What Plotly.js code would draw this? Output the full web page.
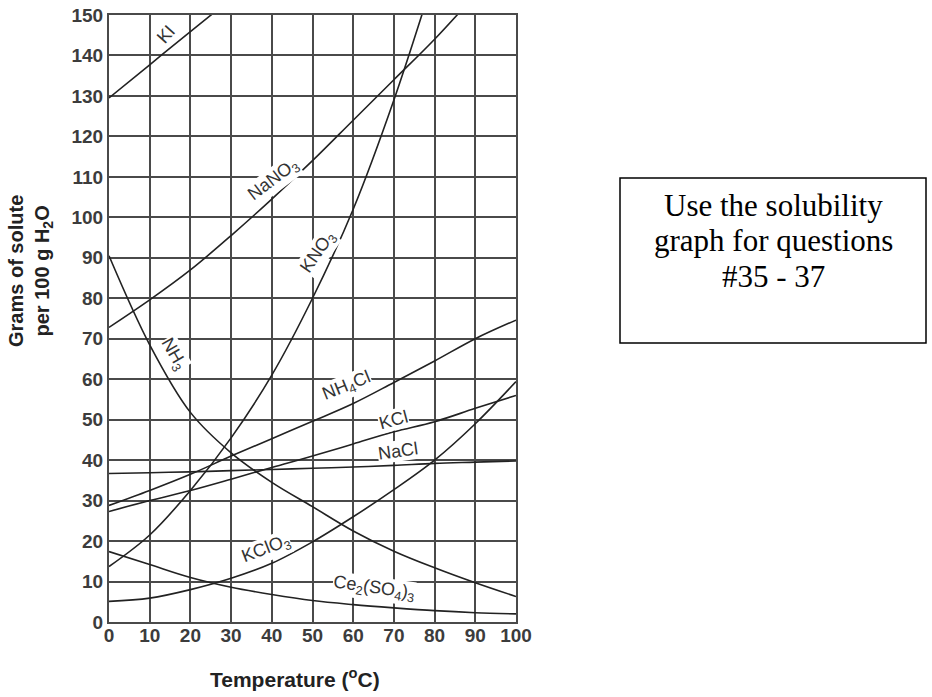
<!DOCTYPE html>
<html>
<head>
<meta charset="utf-8">
<script src="https://cdn.plot.ly/plotly-3.0.1.min.js"></script>
<style>
  html, body { margin: 0; padding: 0; background: #fff; }
  #chart { width: 932px; height: 697px; }
</style>
</head>
<body>
<div id="chart"></div>
<script>
// Temperature (°C)
var TEMPS = [0, 10, 20, 30, 40, 50, 60, 70, 80, 90, 100];
var KI_TEMPS = [0, 10, 20, 30];
var KI = [129.5, 137.7, 145.9, 154];
var NANO3_TEMPS = [0, 10, 20, 30, 40, 50, 60, 70, 80, 90];
var NANO3 = [72.8, 79.6, 87, 95.5, 104.5, 114, 124, 134, 144, 155];
var KNO3_TEMPS = [0, 10, 20, 30, 40, 50, 60, 70, 80];
var KNO3 = [13.7, 21.5, 32.5, 45.5, 61, 80, 102, 129, 160];
var NH3 = [90.5, 68.5, 51.8, 41.8, 34.5, 28.5, 22.5, 17.5, 13.4, 9.7, 6.3];
var NH4CL = [28.8, 32.5, 36.5, 41, 45.3, 49.6, 54, 59.2, 64.5, 70, 74.6];
var KCL = [27.3, 30, 32.5, 35.3, 38.2, 41, 44, 47, 49.5, 52.8, 56];
var NACL = [36.7, 36.9, 37.1, 37.4, 37.7, 38, 38.3, 38.7, 39.2, 39.5, 39.8];
var KCLO3 = [5.1, 5.9, 8, 10.8, 14.5, 19.8, 26, 32.7, 40, 49, 59.4];
var CE2SO43 = [17.4, 14.2, 11, 8.6, 6.8, 5.3, 4.3, 3.5, 2.8, 2.3, 2];

var X_TICKS = [0, 10, 20, 30, 40, 50, 60, 70, 80, 90, 100];
var Y_TICKS = [0, 10, 20, 30, 40, 50, 60, 70, 80, 90, 100, 110, 120, 130, 140, 150];

// Curve labels
var LABEL_TEXT = ['KI', 'NaNO<sub>3</sub>', 'KNO<sub>3</sub>', 'NH<sub>3</sub>', 'NH<sub>4</sub>Cl', 'KCl', 'NaCl', 'KClO<sub>3</sub>', 'Ce<sub>2</sub>(SO<sub>4</sub>)<sub>3</sub>'];
var LABEL_X = [14, 40.3, 51.4, 15.7, 58.5, 69.8, 71, 38.5, 65];
var LABEL_Y = [145.4, 109.2, 91.4, 66, 58.1, 49.9, 42.3, 18, 8.3];
var LABEL_ANGLE = [-48, -37, -55, 60, -22, -15, -8, -21, 8];

var SIDE_NOTE = ['Use the solubility', 'graph for questions', '#35 - 37'];

var lineStyle = { color: '#222', width: 1.6, shape: 'spline', smoothing: 1 };
function curve(x, y) {
  return { x: x, y: y, type: 'scatter', mode: 'lines', line: lineStyle, hoverinfo: 'skip', showlegend: false };
}

var traces = [
  curve(KI_TEMPS, KI),
  curve(NANO3_TEMPS, NANO3),
  curve(KNO3_TEMPS, KNO3),
  curve(TEMPS, NH3),
  curve(TEMPS, NH4CL),
  curve(TEMPS, KCL),
  curve(TEMPS, NACL),
  curve(TEMPS, KCLO3),
  curve(TEMPS, CE2SO43)
];

var SANS = 'Liberation Sans, Arial, sans-serif';
var labelFont = { family: SANS, size: 18, color: '#333' };
var annotations = [];
for (var i = 0; i < LABEL_TEXT.length; i++) {
  annotations.push({
    x: LABEL_X[i], y: LABEL_Y[i], xref: 'x', yref: 'y',
    xanchor: 'center', yanchor: 'middle',
    text: LABEL_TEXT[i], textangle: LABEL_ANGLE[i],
    showarrow: false, font: labelFont, bgcolor: '#fff', borderpad: 0
  });
}
// Axis titles
annotations.push({
  xref: 'paper', yref: 'paper', x: (295 - 109) / 407, y: (622 - 678) / 607,
  xanchor: 'center', yanchor: 'middle',
  text: 'Temperature (<sup>o</sup>C)', showarrow: false,
  font: { family: SANS, size: 21, color: '#222', weight: 'bold' }
});
annotations.push({
  xref: 'paper', yref: 'paper', x: (30 - 109) / 407, y: (622 - 271) / 607,
  xanchor: 'center', yanchor: 'middle',
  text: 'Grams of solute<br>per 100 g H<sub>2</sub>O', textangle: -90, showarrow: false,
  font: { family: SANS, size: 20, color: '#222', weight: 'bold' }
});
// Side note, one annotation per line
var NOTE_Y = [205, 241, 276];
for (var j = 0; j < SIDE_NOTE.length; j++) {
  annotations.push({
    xref: 'paper', yref: 'paper', x: (773 - 109) / 407, y: (622 - NOTE_Y[j]) / 607,
    xanchor: 'center', yanchor: 'middle',
    text: SIDE_NOTE[j], showarrow: false,
    font: { family: 'Liberation Serif, Times New Roman, serif', size: 31, color: '#000' }
  });
}

var gridColor = '#4a4a4a';
var tickFont = { family: SANS, size: 19, color: '#3c3c3c', weight: 'bold' };
var layout = {
  width: 932, height: 697,
  margin: { l: 109, r: 416, t: 15, b: 75 },
  paper_bgcolor: '#fff', plot_bgcolor: '#fff',
  showlegend: false,
  xaxis: {
    range: [0, 100], tickvals: X_TICKS, ticktext: X_TICKS.map(String),
    showgrid: true, gridcolor: gridColor, gridwidth: 2,
    zeroline: false, showline: true, mirror: true, linecolor: gridColor, linewidth: 2,
    ticks: '', ticklabelstandoff: -5,
    tickfont: tickFont, fixedrange: true
  },
  yaxis: {
    range: [0, 150], tickvals: Y_TICKS, ticktext: Y_TICKS.map(String),
    showgrid: true, gridcolor: gridColor, gridwidth: 2,
    zeroline: false, showline: true, mirror: true, linecolor: gridColor, linewidth: 2,
    ticks: '', ticklabelstandoff: 0,
    tickfont: tickFont, fixedrange: true
  },
  annotations: annotations,
  shapes: [{
    type: 'rect', xref: 'paper', yref: 'paper',
    x0: (620 - 109) / 407, x1: (926 - 109) / 407,
    y0: (622 - 343) / 607, y1: (622 - 178) / 607,
    line: { color: '#000', width: 1.5 }, fillcolor: 'rgba(0,0,0,0)'
  }]
};

Plotly.newPlot('chart', traces, layout, { displayModeBar: false, staticPlot: true });
</script>
</body>
</html>
